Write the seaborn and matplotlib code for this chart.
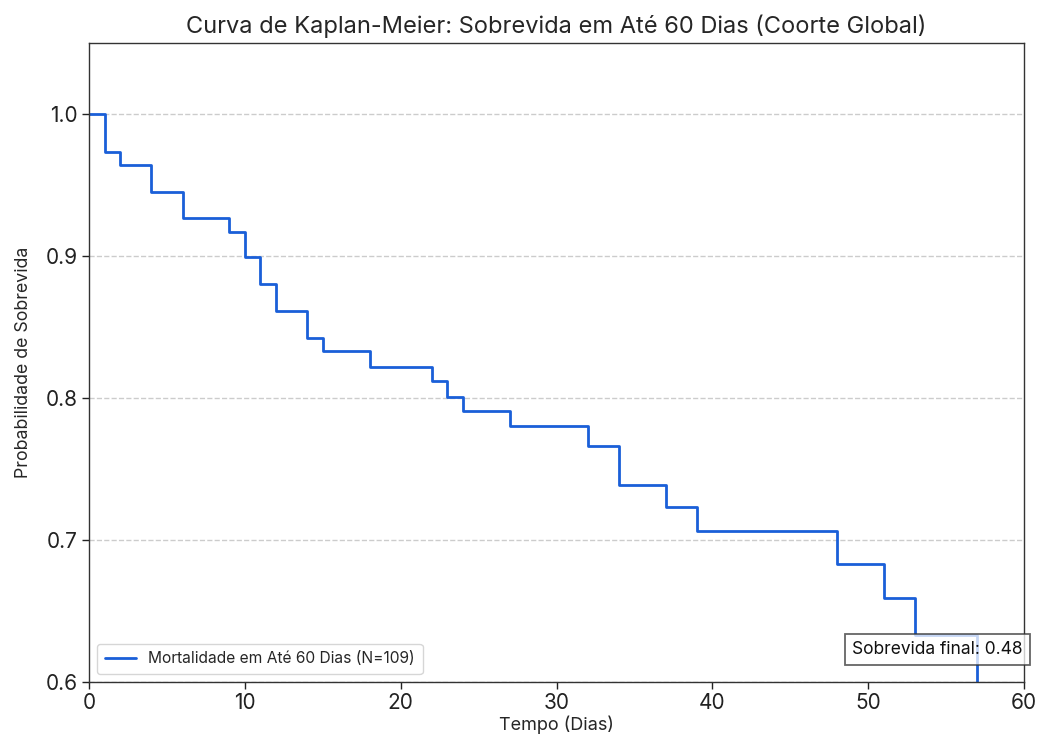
import matplotlib
matplotlib.use("Agg")
import matplotlib.pyplot as plt
import seaborn as sns
import pandas as pd

# Data
tempo = [0, 1, 2, 4, 6, 9, 10, 11, 12, 14, 15, 18, 22, 23, 24, 27, 32, 34, 37, 39, 48, 51, 53, 57, 60]
sobrevida = [1.0, 0.973, 0.964, 0.945, 0.927, 0.917, 0.899, 0.880, 0.861, 0.842, 0.833,
             0.822, 0.812, 0.801, 0.791, 0.780, 0.766, 0.739, 0.723, 0.706, 0.683,
             0.659, 0.633, 0.48, 0.48]
rotulo = "Mortalidade em Até 60 Dias (N=109)"
sobrevida_final = 0.48

sns.set_style("white")
plt.rcParams['font.family'] = ['Inter', 'DejaVu Sans']

df = pd.DataFrame({"Tempo": tempo, "Sobrevida": sobrevida})

fig = plt.figure(figsize=(10.41, 7.42), dpi=100)
ax = fig.add_axes([89/1041, 1 - 682/742, (1024-89)/1041, (682-43)/742])

sns.lineplot(data=df, x="Tempo", y="Sobrevida", ax=ax, estimator=None, sort=False,
             drawstyle="steps-post", color="#1a5fd8", linewidth=2.0, label=rotulo)

ax.set_xlim(0, 60)
ax.set_ylim(0.6, 1.05)
ax.set_xticks([0, 10, 20, 30, 40, 50, 60])
ax.set_yticks([0.6, 0.7, 0.8, 0.9, 1.0])
ax.tick_params(axis='both', labelsize=15, length=5, width=1, direction='out',
               bottom=True, left=True, colors='#222222', pad=3)
for s in ax.spines.values():
    s.set_color('#333333')
    s.set_linewidth(1.0)
ax.yaxis.grid(True, linestyle='--', color='#cccccc', linewidth=1.0)
ax.xaxis.grid(False)

ax.set_title("Curva de Kaplan-Meier: Sobrevida em Até 60 Dias (Coorte Global)", fontsize=17, pad=7)
ax.set_xlabel("Tempo (Dias)", fontsize=13, labelpad=2)
ax.set_ylabel("Probabilidade de Sobrevida", fontsize=12.8, labelpad=10)

leg = ax.legend(loc='lower left', fontsize=11.2, frameon=True, borderpad=0.5)
leg.get_frame().set_edgecolor('#cccccc')

ax.text(54.45, 0.6232, f"Sobrevida final: {sobrevida_final:.2f}", ha='center', va='center',
        fontsize=12.5, color='#111111', clip_on=False,
        bbox=dict(boxstyle='square,pad=0.4', facecolor='white', edgecolor='#333333',
                  linewidth=1.3, alpha=0.75))

fig.savefig("out.png", dpi=100)
